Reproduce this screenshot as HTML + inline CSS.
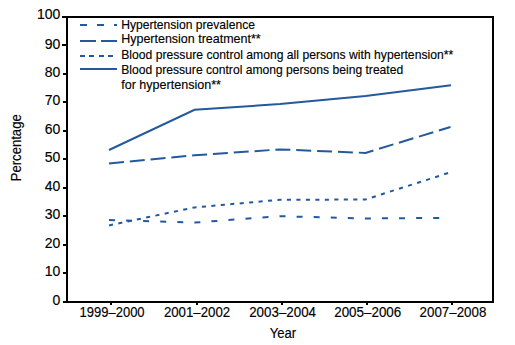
<!DOCTYPE html>
<html><head><meta charset="utf-8">
<style>
html,body{margin:0;padding:0;background:#fff;}
svg{display:block;}
text{font-family:"Liberation Sans",sans-serif;fill:#000;stroke:#000;stroke-width:0.15px;}
</style></head>
<body>
<svg width="515" height="345" viewBox="0 0 515 345">
<g shape-rendering="crispEdges" fill="#000">
  <rect x="62" y="16" width="432" height="2"/>
  <rect x="63" y="301" width="431" height="2"/>
  <rect x="66" y="16" width="2" height="287"/>
  <rect x="492" y="16" width="2" height="287"/>
  <rect x="62" y="44" width="4" height="2"/>
  <rect x="63" y="73" width="3" height="2"/>
  <rect x="63" y="101" width="3" height="2"/>
  <rect x="63" y="130" width="3" height="2"/>
  <rect x="63" y="158" width="3" height="2"/>
  <rect x="63" y="187" width="3" height="2"/>
  <rect x="63" y="215" width="3" height="2"/>
  <rect x="63" y="244" width="3" height="2"/>
  <rect x="63" y="272" width="3" height="2"/>
  <rect x="110" y="303" width="2" height="2"/>
  <rect x="196" y="303" width="2" height="2"/>
  <rect x="281" y="303" width="2" height="2"/>
  <rect x="366" y="303" width="2" height="2"/>
  <rect x="451" y="303" width="2" height="2"/>
</g>
<g font-size="14" text-anchor="end">
  <text x="60.3" y="18.8">100</text>
  <text x="60.3" y="49">90</text>
  <text x="60.3" y="76.8">80</text>
  <text x="60.3" y="104.8">70</text>
  <text x="60.3" y="134">60</text>
  <text x="60.3" y="162">50</text>
  <text x="60.3" y="191">40</text>
  <text x="60.3" y="218.8">30</text>
  <text x="60.3" y="247.8">20</text>
  <text x="60.3" y="276">10</text>
  <text x="60.3" y="304.6">0</text>
</g>
<g font-size="14">
  <text x="79.6" y="317" textLength="65" lengthAdjust="spacingAndGlyphs">1999–2000</text>
  <text x="163.9" y="317" textLength="66.3" lengthAdjust="spacingAndGlyphs">2001–2002</text>
  <text x="249.2" y="317" textLength="66.8" lengthAdjust="spacingAndGlyphs">2003–2004</text>
  <text x="334.2" y="317" textLength="67.1" lengthAdjust="spacingAndGlyphs">2005–2006</text>
  <text x="419.6" y="317" textLength="66.7" lengthAdjust="spacingAndGlyphs">2007–2008</text>
  <text x="269.7" y="337.9" textLength="26.4" lengthAdjust="spacingAndGlyphs">Year</text>
  <text transform="translate(20.9,181.3) rotate(-90)" x="0" y="0" textLength="67" lengthAdjust="spacingAndGlyphs">Percentage</text>
</g>
<g font-size="12.8">
  <text x="121.2" y="28.75" textLength="133.8" lengthAdjust="spacingAndGlyphs">Hypertension prevalence</text>
  <text x="121.2" y="42.75" textLength="139.5" lengthAdjust="spacingAndGlyphs">Hypertension treatment**</text>
  <text x="121.2" y="58.75" textLength="332" lengthAdjust="spacingAndGlyphs">Blood pressure control among all persons with hypertension**</text>
  <text x="121.2" y="73.7" textLength="282" lengthAdjust="spacingAndGlyphs">Blood pressure control among persons being treated</text>
  <text x="121.2" y="88.5" textLength="99.8" lengthAdjust="spacingAndGlyphs">for hypertension**</text>
</g>
<g fill="none" stroke="#24599e" stroke-width="2">
  <line x1="80" y1="25" x2="117" y2="25" stroke-dasharray="7 10"/>
  <line x1="80" y1="41" x2="117" y2="41" stroke-dasharray="16 5"/>
  <path d="M80 56h5M89 56h5M99 56h5M108 56h5"/>
  <line x1="80" y1="69" x2="117" y2="69"/>
  <polyline points="109,220 194.5,222.6 280,216.2 365.5,218.5 450,217.8" stroke-dasharray="6 11.08"/>
  <polyline points="109,163.5 194.5,155.3 280,149.4 365.5,152.9 450.5,127" stroke-dasharray="15 5.87"/>
  <polyline points="109,225.4 194.5,207.4 280,199.8 365.5,199.5 451,172.1" stroke-dasharray="4.1 5.38"/>
  <polyline points="109,150 194.5,109.8 280,104 365.5,96 451,85.2"/>
</g>
</svg>
</body></html>
